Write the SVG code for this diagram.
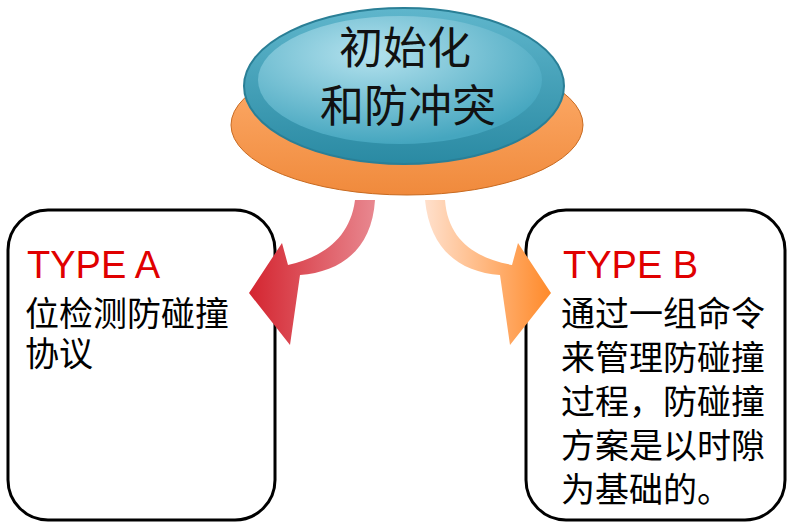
<svg xmlns="http://www.w3.org/2000/svg" width="800" height="528" viewBox="0 0 800 528">
<defs>
<linearGradient id="blue" x1="0" y1="0" x2="0" y2="1"><stop offset="0" stop-color="#5fb6cc"/><stop offset="1" stop-color="#2a8aa3"/></linearGradient>
<radialGradient id="blueIn" cx="0.4" cy="0.3" r="0.7"><stop offset="0" stop-color="#b4e2ee"/><stop offset="1" stop-color="#45a6bf"/></radialGradient>
<linearGradient id="orange" x1="0" y1="0" x2="0" y2="1"><stop offset="0" stop-color="#ffb070"/><stop offset="1" stop-color="#f08a3c"/></linearGradient>
<linearGradient id="red" x1="1" y1="0" x2="0" y2="0"><stop offset="0" stop-color="#e88890"/><stop offset="1" stop-color="#d42530"/></linearGradient>
<linearGradient id="org" x1="0" y1="0" x2="1" y2="0"><stop offset="0" stop-color="#ffe0cc"/><stop offset="1" stop-color="#ff8a2a"/></linearGradient>
<style>
.box{fill:#fff;stroke:#000;stroke-width:3}
.t{font-family:"Noto Sans CJK SC",sans-serif;font-size:34px;fill:#000}
.h{font-family:"Liberation Sans","Noto Sans CJK SC",sans-serif;font-size:38px;fill:#e00000}
.c{font-family:"Noto Sans CJK SC",serif;font-size:44px;fill:#111;text-anchor:middle}
</style>
</defs>
<g id="left">
<rect class="box" x="8" y="210" width="267" height="310" rx="40"/>
<text class="h" x="27" y="278">TYPE A</text>
<text class="t" x="25" y="326">位检测防碰撞</text>
<text class="t" x="25" y="366">协议</text>
</g>
<g id="right">
<rect class="box" x="526" y="210" width="259" height="310" rx="40"/>
<text class="h" x="563" y="278">TYPE B</text>
<text class="t" x="561" y="326">通过一组命令</text>
<text class="t" x="561" y="370">来管理防碰撞</text>
<text class="t" x="561" y="414">过程，防碰撞</text>
<text class="t" x="561" y="458">方案是以时隙</text>
<text class="t" x="561" y="502">为基础的。</text>
</g>
<g id="top">
<ellipse cx="407" cy="125" rx="176" ry="70" fill="url(#orange)" stroke="#c86a20" stroke-width="1"/>
<ellipse cx="404" cy="86" rx="160" ry="78" fill="url(#blue)" stroke="#2a7f96" stroke-width="2"/>
<ellipse cx="400" cy="80" rx="142" ry="64" fill="url(#blueIn)"/>
<text class="c" x="405" y="64">初始化</text>
<text class="c" x="408" y="122">和防冲突</text>
</g>
<g id="connectors">
<path d="M355,200 L375,200 C372,250 340,272 300,275 L290,345 L249,293 L282,243 L288,265 C320,258 350,240 355,200 Z" fill="url(#red)"/>
<path d="M445,200 C448,240 475,258 512,265 L518,243 L551,293 L510,345 L500,275 C460,272 430,250 425,200 Z" fill="url(#org)"/>
</g>
</svg>
